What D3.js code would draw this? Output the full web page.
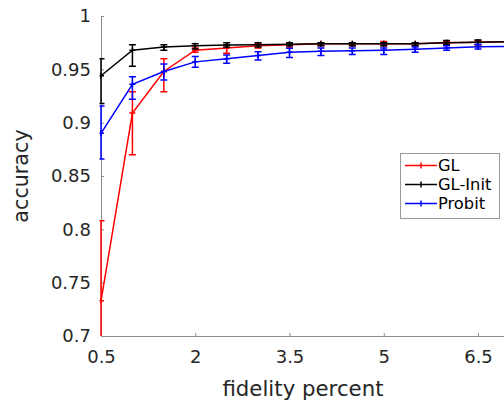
<!DOCTYPE html>
<html>
<head>
<meta charset="utf-8">
<script src="https://cdn.jsdelivr.net/npm/d3@7"></script>
<style>
  html, body { margin: 0; padding: 0; background: #fff; }
  svg { display: block; font-family: "DejaVu Sans", sans-serif; }
</style>
</head>
<body>
<svg id="chart" width="504" height="401"></svg>
<script>
// ---- data ----
const fidelity = [0.5, 1, 1.5, 2, 2.5, 3, 3.5, 4, 4.5, 5, 5.5, 6, 6.5, 7];

const glMean  = [0.733, 0.909, 0.948, 0.968, 0.970, 0.972, 0.973, 0.974, 0.974, 0.974, 0.974, 0.975, 0.9755, 0.9758];
const glLow   = [0.660, 0.870, 0.929, 0.966, 0.965, 0.970, 0.971, 0.972, 0.972, 0.972, 0.972, 0.973, 0.973, 0.974];
const glHigh  = [0.808, 0.929, 0.960, 0.970, 0.973, 0.974, 0.975, 0.975, 0.975, 0.976, 0.975, 0.976, 0.977, 0.977];

const initMean = [0.944, 0.968, 0.971, 0.972, 0.9728, 0.973, 0.9734, 0.974, 0.974, 0.974, 0.974, 0.975, 0.9755, 0.9758];
const initLow  = [0.918, 0.953, 0.968, 0.969, 0.971, 0.971, 0.972, 0.972, 0.972, 0.972, 0.972, 0.973, 0.973, 0.974];
const initHigh = [0.960, 0.973, 0.973, 0.974, 0.975, 0.975, 0.975, 0.975, 0.975, 0.975, 0.975, 0.977, 0.9775, 0.978];

const probMean = [0.890, 0.936, 0.948, 0.957, 0.960, 0.963, 0.966, 0.967, 0.9675, 0.968, 0.9688, 0.970, 0.9712, 0.9715];
const probLow  = [0.866, 0.922, 0.940, 0.952, 0.9556, 0.9587, 0.961, 0.963, 0.964, 0.964, 0.966, 0.968, 0.969, 0.969];
const probHigh = [0.9156, 0.943, 0.955, 0.962, 0.9635, 0.9665, 0.9697, 0.970, 0.970, 0.970, 0.971, 0.972, 0.9735, 0.974];

const seriesNames = ["GL", "GL-Init", "Probit"];
const xTicks = [0.5, 2, 3.5, 5, 6.5];
const yTicks = [0.7, 0.75, 0.8, 0.85, 0.9, 0.95, 1];
const xLabel = "fidelity percent";
const yLabel = "accuracy";

// ---- drawing ----
const colors = ["#ff0000", "#000000", "#0000ff"];
const series = [
  {name: seriesNames[0], mean: glMean, low: glLow, high: glHigh, color: colors[0]},
  {name: seriesNames[1], mean: initMean, low: initLow, high: initHigh, color: colors[1]},
  {name: seriesNames[2], mean: probMean, low: probLow, high: probHigh, color: colors[2]}
];

const svg = d3.select("#chart");
const mLeft = 101, mTop = 16, mBottom = 336;
const x = d3.scaleLinear().domain([0.5, 7]).range([mLeft, mLeft + 6.5 * (377 / 6)]);
const y = d3.scaleLinear().domain([0.7, 1]).range([mBottom, mTop]);

const axisColor = "#8c8c8c";
const textColor = "#262626";

svg.append("defs").append("clipPath").attr("id", "clip")
  .append("rect").attr("x", mLeft - 1.5).attr("y", mTop - 10).attr("width", 520).attr("height", mBottom - mTop + 10);

// axes
const xAxis = svg.append("g").attr("transform", `translate(0,${mBottom})`)
  .call(d3.axisBottom(x).tickValues(xTicks).tickSizeInner(-3).tickSizeOuter(0).tickPadding(14)
        .tickFormat(d3.format("")));
xAxis.select(".domain").attr("stroke", axisColor);
xAxis.selectAll(".tick line").attr("stroke", axisColor);
xAxis.selectAll(".tick text").attr("fill", textColor).attr("font-size", "18px")
  .attr("font-family", "DejaVu Sans");

const yAxis = svg.append("g").attr("transform", `translate(${mLeft},0)`)
  .call(d3.axisLeft(y).tickValues(yTicks).tickSizeInner(-3).tickSizeOuter(0).tickPadding(10)
        .tickFormat(d => d3.format("")(+d.toFixed(2))));
yAxis.select(".domain").attr("stroke", axisColor);
yAxis.selectAll(".tick line").attr("stroke", axisColor);
yAxis.selectAll(".tick text").attr("fill", textColor).attr("font-size", "18px")
  .attr("font-family", "DejaVu Sans");

// axis labels
svg.append("text").attr("x", 303).attr("y", 396)
  .attr("text-anchor", "middle").attr("font-size", "21.3px").attr("fill", textColor).text(xLabel);
svg.append("text").attr("transform", `translate(28,${(mTop + mBottom) / 2}) rotate(-90)`)
  .attr("text-anchor", "middle").attr("font-size", "20.7px").attr("fill", textColor).text(yLabel);

// series
const plot = svg.append("g").attr("clip-path", "url(#clip)");
const line = d3.line().x((d, i) => x(fidelity[i])).y(d => y(d));
const cap = 3.5, mk = 3;

series.forEach(s => {
  const g = plot.append("g");
  g.append("path").datum(s.mean).attr("d", line)
    .attr("fill", "none").attr("stroke", s.color).attr("stroke-width", 1.5);
  fidelity.forEach((fx, i) => {
    const px = x(fx);
    const yl = y(s.low[i]), yh = y(s.high[i]), ym = y(s.mean[i]);
    const eb = g.append("g").attr("stroke", s.color).attr("stroke-width", 1.5);
    eb.append("line").attr("x1", px).attr("x2", px).attr("y1", yl).attr("y2", yh);
    eb.append("line").attr("x1", px - cap).attr("x2", px + cap).attr("y1", yl).attr("y2", yl);
    eb.append("line").attr("x1", px - cap).attr("x2", px + cap).attr("y1", yh).attr("y2", yh);
    eb.append("line").attr("x1", px - mk).attr("x2", px + mk).attr("y1", ym).attr("y2", ym);
    eb.append("line").attr("x1", px).attr("x2", px).attr("y1", ym - mk).attr("y2", ym + mk);
  });
});

// legend
const lg = svg.append("g");
lg.append("rect").attr("x", 400.5).attr("y", 153.5).attr("width", 99).attr("height", 65)
  .attr("fill", "#fff").attr("stroke", "#999").attr("stroke-width", 1);
series.forEach((s, i) => {
  const ly = 165.5 + i * 19;
  lg.append("line").attr("x1", 405).attr("x2", 437).attr("y1", ly).attr("y2", ly)
    .attr("stroke", s.color).attr("stroke-width", 1.5);
  lg.append("line").attr("x1", 421).attr("x2", 421).attr("y1", ly - mk).attr("y2", ly + mk)
    .attr("stroke", s.color).attr("stroke-width", 1.5);
  lg.append("text").attr("x", 438).attr("y", ly).attr("dy", "0.36em")
    .attr("font-size", "16.3px").attr("fill", "#000").text(s.name);
});
</script>
</body>
</html>
